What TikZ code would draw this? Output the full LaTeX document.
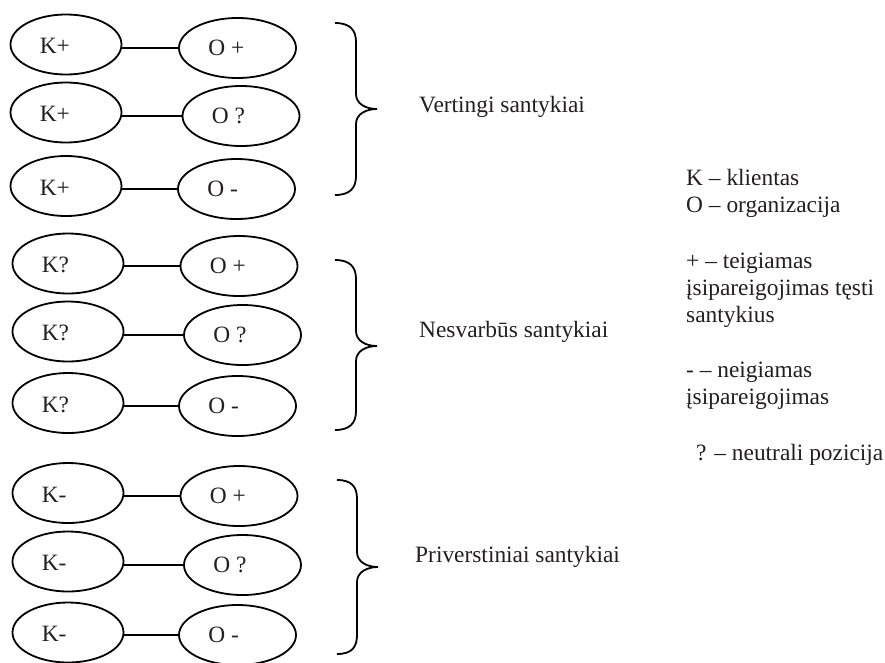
\documentclass[tikz,border=0pt]{standalone}
\usepackage{fontspec}
\setmainfont{Liberation Serif}
\usetikzlibrary{shapes.geometric}
\definecolor{ink}{RGB}{35,31,32}
\newcommand{\mybrace}[6]{%
  \draw[bracestyle] (#1,#4) .. controls ({#1+15},#4) and (#2,{#4+7}) .. (#2,{#4+19})
    -- (#2,{#5-15}) .. controls (#2,{#5-5}) and ({#3-11},#5) .. (#3,#5)
    .. controls ({#3-11},#5) and (#2,{#5+5}) .. (#2,{#5+15})
    -- (#2,{#6-19}) .. controls (#2,{#6-7}) and ({#1+15},#6) .. (#1,#6);}
\begin{document}
\begin{tikzpicture}[x=1pt,y=-1pt,
  every node/.style={font=\fontsize{23.4}{27.3}\selectfont, text=ink},
  ell/.style={draw=black, line width=1.8pt, ellipse, inner sep=0pt, minimum height=60pt},
  kell/.style={ell, minimum width=111pt},
  oell/.style={ell, minimum width=117pt},
  intext/.style={anchor=base west, inner sep=0pt},
  link/.style={draw=black, line width=1.8pt},
  bracestyle/.style={draw=black, line width=1.8pt},
  lbl/.style={anchor=base west, inner sep=0pt}]
\useasboundingbox (0,0) rectangle (885,662);

% ---- group 1
\node[kell] (k1) at (66,44.5) {};
\node[oell] (o1) at (237.5,48) {};
\node[kell] (k2) at (66,112.5) {};
\node[oell] (o2) at (241,116) {};
\node[kell] (k3) at (66,186) {};
\node[oell] (o3) at (236.5,189) {};
% ---- group 2
\node[kell] (k4) at (68,263.5) {};
\node[oell] (o4) at (239,266) {};
\node[kell] (k5) at (68,331.5) {};
\node[oell] (o5) at (242.5,335) {};
\node[kell] (k6) at (68,403) {};
\node[oell] (o6) at (237.5,406) {};
% ---- group 3
\node[kell] (k7) at (68,493) {};
\node[oell] (o7) at (239,496) {};
\node[kell] (k8) at (68,561.5) {};
\node[oell] (o8) at (242.5,565) {};
\node[kell] (k9) at (68,632.5) {};
\node[oell] (o9) at (237.5,635) {};

% texts inside ellipses
\foreach \n/\t in {k1/K+,k2/K+,k3/K+,k4/K?,k5/K?,k6/K?,k7/K-,k8/K-,k9/K-}{
  \node[intext] (\n t) at ([xshift=30pt,yshift=-9pt]\n.west) {\t};
}
\foreach \n/\t in {o1/O +,o2/O ?,o3/O -,o4/O +,o5/O ?,o6/O -,o7/O +,o8/O ?,o9/O -}{
  \node[intext] (\n t) at ([xshift=30pt,yshift=-7.5pt]\n.west) {\t};
}

% connectors
\foreach \i in {1,...,9}{
  \draw[link] (k\i.east |- o\i.west) -- (o\i.west);
}

% braces
\mybrace{335}{356}{377}{23}{109}{195}
\mybrace{335}{356}{377}{260}{346}{430}
\mybrace{337}{357}{378}{480}{567}{654}

% group labels
\node[lbl] (g1) at (419,112) {Vertingi santykiai};
\node[lbl] (g2) at (419,337) {Nesvarbūs santykiai};
\node[lbl] (g3) at (415,562) {Priverstiniai santykiai};

% legend
\node[lbl] (l1) at (686,185) {K – klientas};
\node[lbl] (l2) at (686,212.5) {O – organizacija};
\node[lbl] (l3) at (686,268) {+ – teigiamas};
\node[lbl] (l4) at (686,295) {įsipareigojimas tęsti};
\node[lbl] (l5) at (686,322) {santykius};
\node[lbl] (l6) at (686,377) {- – neigiamas};
\node[lbl] (l7) at (686,404) {įsipareigojimas};
\node[lbl] (l8) at (696,460) {? – neutrali pozicija};
\end{tikzpicture}
\end{document}
